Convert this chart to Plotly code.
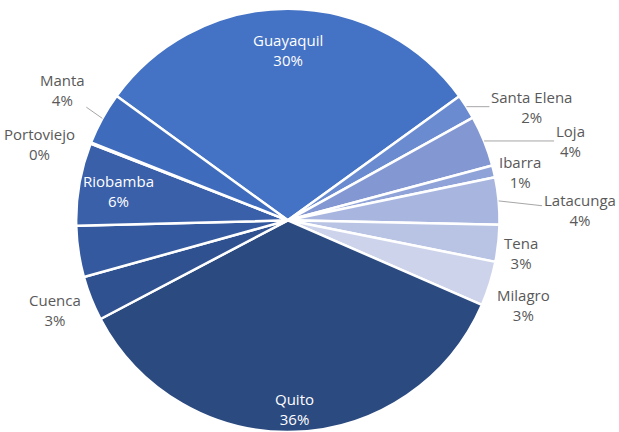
import math
import plotly.graph_objects as go

labels = ["Guayaquil", "Santa Elena", "Loja", "Ibarra", "Latacunga", "Tena", "Milagro",
          "Quito", "Cuenca", "Otros", "Riobamba", "Portoviejo", "Manta"]
values = [30.0, 1.9, 3.9, 0.9, 3.6, 2.8, 3.4, 35.7, 3.4, 3.9, 6.3, 0.1, 4.0]
colors = ["#4472C4", "#6A8BD0", "#8397D2", "#8FA3D8", "#A8B6DF", "#B9C4E5", "#CDD3EB",
          "#2B4A80", "#2F5190", "#34599E", "#3A60A9", "#3D66B2", "#3F6BBC"]

# label styling: ("inside", radius fraction) or ("outside", dx px, dy px, leader line)
label_style = {
    "Guayaquil": ("inside", 0.805),
    "Quito": ("inside", 0.89),
    "Riobamba": ("inside", 0.81),
    "Santa Elena": ("outside", 65, 0, True),
    "Loja": ("outside", 86, 0, True),
    "Ibarra": ("outside", 26, 1, False),
    "Latacunga": ("outside", 81, 9, True),
    "Tena": ("outside", 23, 10, False),
    "Milagro": ("outside", 34, 21, False),
    "Cuenca": ("outside", -36, 12, False),
    "Portoviejo": ("outside", -51, 1, False),
    "Manta": ("outside", -40, -28, True),
}

W, H = 619, 432
DOM_X, DOM_Y = [0, 0.93], [0, 0.98]
ROTATION = -54

fig = go.Figure(go.Pie(
    labels=labels,
    values=values,
    sort=False,
    direction="clockwise",
    rotation=ROTATION,
    domain=dict(x=DOM_X, y=DOM_Y),
    marker=dict(colors=colors, line=dict(color="white", width=2.5)),
    textinfo="none",
    textposition="none",
    showlegend=False,
    automargin=False,
    hoverinfo="label+percent",
))

# pie geometry as plotly lays it out (margins are zero)
r_px = min((DOM_X[1] - DOM_X[0]) * W, (DOM_Y[1] - DOM_Y[0]) * H) / 2
cx = (DOM_X[0] + DOM_X[1]) / 2
cy = (DOM_Y[0] + DOM_Y[1]) / 2
total = sum(values)
cum = 0.0
annotations = []
for lab, v in zip(labels, values):
    mid = math.radians(ROTATION + (cum + v / 2) / total * 360)
    cum += v
    if lab not in label_style:
        continue
    pct = f"{round(v / total * 100):.0f}%"
    text = f"{lab}<br>{pct}"
    st = label_style[lab]
    if st[0] == "inside":
        f = st[1]
        annotations.append(dict(
            x=cx + f * r_px * math.sin(mid) / W,
            y=cy + f * r_px * math.cos(mid) / H,
            xref="paper", yref="paper", text=text, showarrow=False,
            xanchor="center", yanchor="middle",
            font=dict(family="Open Sans", size=15, color="white"),
        ))
    else:
        _, dx, dy, line = st
        ex = cx + r_px * math.sin(mid) / W
        ey = cy + r_px * math.cos(mid) / H
        if line:
            annotations.append(dict(
                x=ex, y=ey, xref="paper", yref="paper", text=text,
                showarrow=True, ax=dx, ay=dy, arrowhead=0, arrowwidth=1,
                arrowcolor="#A6A6A6", standoff=0, startstandoff=0,
                font=dict(family="Open Sans", size=15, color="#595959"),
            ))
        else:
            annotations.append(dict(
                x=ex, y=ey, xref="paper", yref="paper", text=text,
                showarrow=False, xshift=dx, yshift=-dy,
                xanchor="center", yanchor="middle",
                font=dict(family="Open Sans", size=15, color="#595959"),
            ))

fig.update_layout(
    width=W, height=H,
    margin=dict(l=0, r=0, t=0, b=0, autoexpand=False),
    paper_bgcolor="white",
    plot_bgcolor="white",
    font=dict(family="Open Sans", size=15, color="#595959"),
    annotations=annotations,
)

fig.write_html("out.html", config={"displayModeBar": False},
               post_script="document.body.style.margin='0';document.body.style.overflow='hidden';")
